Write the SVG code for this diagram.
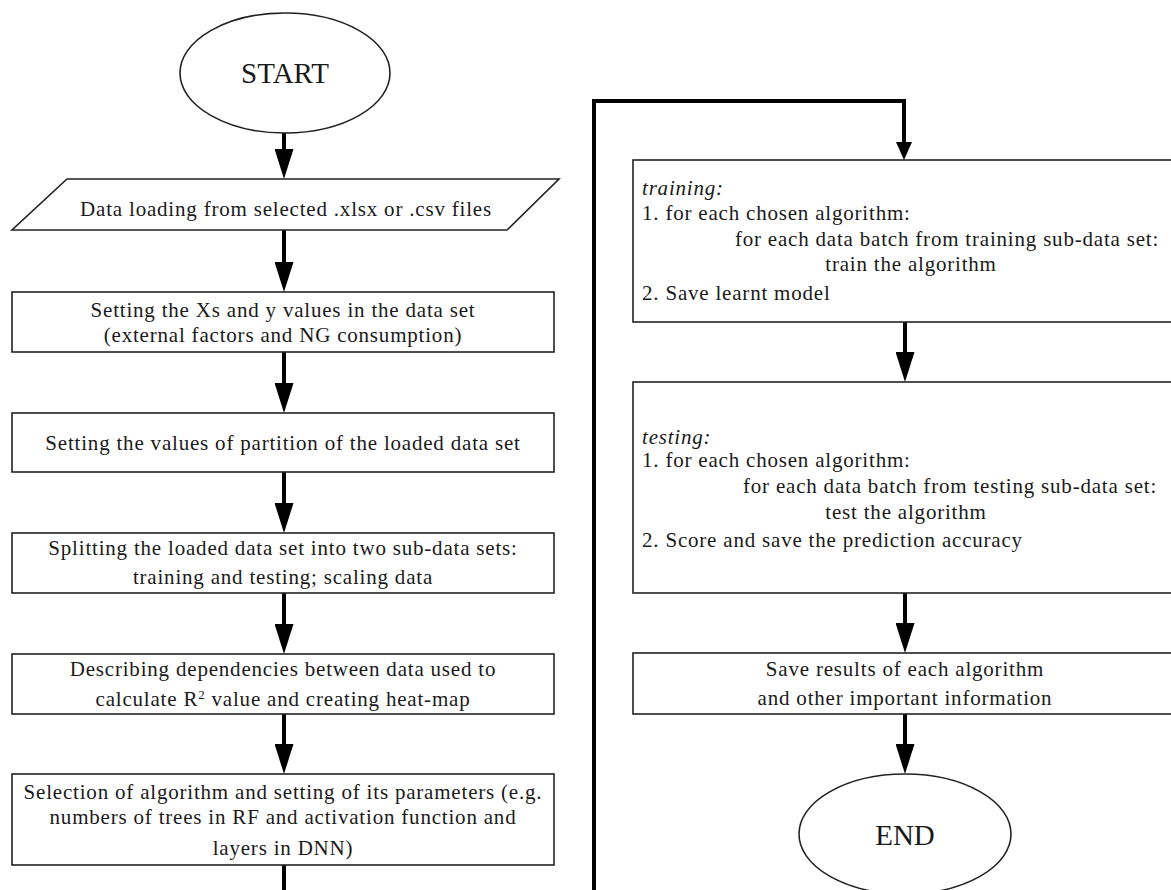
<svg xmlns="http://www.w3.org/2000/svg" width="1171" height="890" viewBox="0 0 1171 890">
<style>
.t{font-family:"Liberation Serif","Times New Roman",serif;font-size:21px;letter-spacing:0.8px;fill:#1a1a1a}
.c{text-anchor:middle}
.i{font-style:italic}
.box{fill:#fff;stroke:#222;stroke-width:1.6}
.ln{fill:none;stroke:#000;stroke-width:4}
.big{font-size:29px;letter-spacing:0}
</style>
<defs>
<marker id="ah" markerUnits="userSpaceOnUse" viewBox="0 0 30 19" refX="0" refY="9.5" markerWidth="30" markerHeight="19" orient="auto">
<path d="M0,0 L30,9.5 L0,19 Z" fill="#000"/>
</marker>
<marker id="ahs" markerUnits="userSpaceOnUse" viewBox="0 0 18 16" refX="0" refY="8" markerWidth="18" markerHeight="16" orient="auto">
<path d="M0,0 L18,8 L0,16 Z" fill="#000"/>
</marker>
</defs>
<rect width="1171" height="890" fill="#fff"/>
<g id="connectors">
<line class="ln" x1="284" y1="133" x2="284" y2="149" marker-end="url(#ah)"/>
<line class="ln" x1="284" y1="230" x2="284" y2="262" marker-end="url(#ah)"/>
<line class="ln" x1="284" y1="352" x2="284" y2="383" marker-end="url(#ah)"/>
<line class="ln" x1="284" y1="472" x2="284" y2="503" marker-end="url(#ah)"/>
<line class="ln" x1="284" y1="593" x2="284" y2="624" marker-end="url(#ah)"/>
<line class="ln" x1="284" y1="714" x2="284" y2="744" marker-end="url(#ah)"/>
<polyline class="ln" points="284,865 284,892"/>
<polyline class="ln" points="594,892 594,101 904,101 904,142" stroke-linejoin="miter" marker-end="url(#ahs)"/>
<line class="ln" x1="905" y1="322" x2="905" y2="352" marker-end="url(#ah)"/>
<line class="ln" x1="905" y1="593" x2="905" y2="623" marker-end="url(#ah)"/>
<line class="ln" x1="905" y1="714" x2="905" y2="744" marker-end="url(#ah)"/>
</g>
<g id="start">
<ellipse class="box" cx="285" cy="73" rx="105" ry="60"/>
<text class="t c big" x="285" y="83">START</text>
</g>
<g id="load">
<polygon class="box" points="67,179 559,179 507,230 12,230"/>
<text class="t c" x="286" y="216">Data loading from selected .xlsx or .csv files</text>
</g>
<g id="setxy">
<rect class="box" x="12" y="292" width="542" height="60"/>
<text class="t c" x="283" y="317">Setting the Xs and y values in the data set</text>
<text class="t c" x="283" y="342">(external factors and NG consumption)</text>
</g>
<g id="partition">
<rect class="box" x="12" y="413" width="542" height="59"/>
<text class="t c" x="283" y="450">Setting the values of partition of the loaded data set</text>
</g>
<g id="split">
<rect class="box" x="12" y="533" width="542" height="60"/>
<text class="t c" x="283" y="555">Splitting the loaded data set into two sub-data sets:</text>
<text class="t c" x="283" y="584">training and testing; scaling data</text>
</g>
<g id="deps">
<rect class="box" x="12" y="654" width="542" height="60"/>
<text class="t c" x="283" y="676">Describing dependencies between data used to</text>
<text class="t c" x="283" y="706">calculate R<tspan font-size="13" baseline-shift="super">2</tspan> value and creating heat-map</text>
</g>
<g id="select">
<rect class="box" x="12" y="774" width="542" height="91"/>
<text class="t c" x="283" y="799">Selection of algorithm and setting of its parameters (e.g.</text>
<text class="t c" x="283" y="824">numbers of trees in RF and activation function and</text>
<text class="t c" x="283" y="855">layers in DNN)</text>
</g>
<g id="training">
<rect class="box" x="633" y="160" width="560" height="162"/>
<text class="t i" x="642" y="195">training:</text>
<text class="t" x="642" y="220">1. for each chosen algorithm:</text>
<text class="t c" x="947" y="246">for each data batch from training sub-data set:</text>
<text class="t c" x="911" y="271">train the algorithm</text>
<text class="t" x="642" y="300">2. Save learnt model</text>
</g>
<g id="testing">
<rect class="box" x="633" y="382" width="560" height="211"/>
<text class="t i" x="642" y="444">testing:</text>
<text class="t" x="642" y="467">1. for each chosen algorithm:</text>
<text class="t c" x="950" y="493">for each data batch from testing sub-data set:</text>
<text class="t c" x="906" y="519">test the algorithm</text>
<text class="t" x="642" y="547">2. Score and save the prediction accuracy</text>
</g>
<g id="save">
<rect class="box" x="633" y="653" width="560" height="61"/>
<text class="t c" x="905" y="676">Save results of each algorithm</text>
<text class="t c" x="905" y="705">and other important information</text>
</g>
<g id="end">
<ellipse class="box" cx="905" cy="834" rx="106" ry="60"/>
<text class="t c big" x="905" y="845">END</text>
</g>
</svg>
